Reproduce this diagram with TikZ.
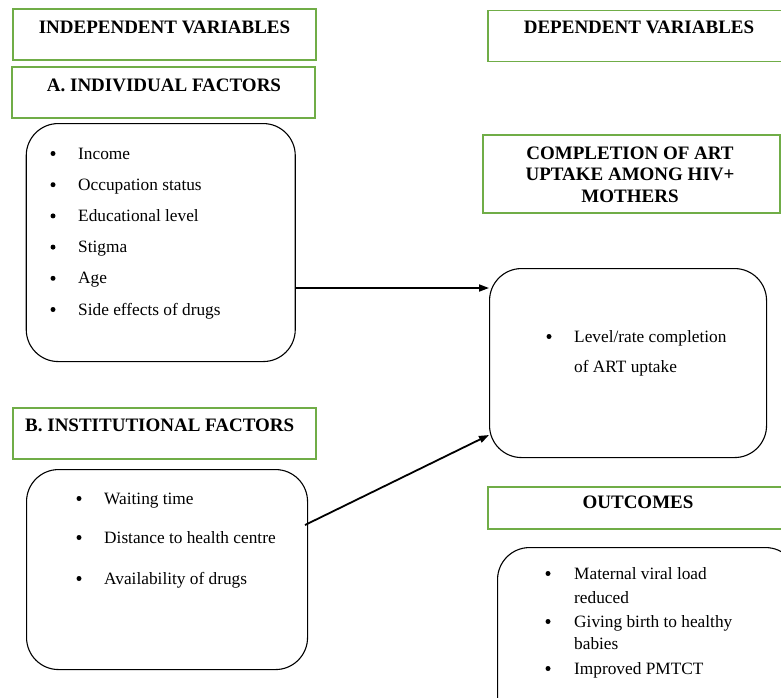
\documentclass[tikz,border=0pt]{standalone}
\usepackage{fontspec}
\setmainfont{Liberation Serif}
\usetikzlibrary{arrows.meta}
\definecolor{boxgreen}{RGB}{112,173,71}
\begin{document}
\begin{tikzpicture}[x=1pt,y=-1pt,
  greenbox/.style={draw=boxgreen,line width=1.6pt,rectangle,inner sep=0pt},
  roundbox/.style={draw=black,line width=1.1pt,rectangle,rounded corners=32pt,inner sep=0pt},
  head/.style={font=\fontsize{19}{21.5}\selectfont\bfseries,inner sep=0pt},
  body/.style={font=\fontsize{17.3}{20}\selectfont,inner sep=0pt,anchor=base west},
  bul/.style={circle,fill=black,inner sep=0pt,minimum size=5pt},
  conn/.style={line width=1.8pt,-{Triangle[length=10pt,width=7pt]}}]
\useasboundingbox (0,0) rectangle (781,697);
\clip (0,0) rectangle (781,697);
% header boxes
\node[greenbox,minimum width=303pt,minimum height=51pt] (indep) at (164.5,34.5) {};
\node[head,anchor=base] (indeptext) at (164.5,33) {INDEPENDENT VARIABLES};
\node[greenbox,minimum width=303pt,minimum height=51pt] (indiv) at (163.5,92.5) {};
\node[head,anchor=base] (indivtext) at (164,91) {A. INDIVIDUAL FACTORS};
\node[greenbox,minimum width=310pt,minimum height=51pt,anchor=north west] (dep) at (487,9.5) {};
\node[head,anchor=base] (deptext) at (639,33) {DEPENDENT VARIABLES};
\node[greenbox,minimum width=297pt,minimum height=78pt,anchor=north west] (compl) at (482,134) {};
\node[head,align=center,anchor=base] (compltext) at (630,202) {COMPLETION OF ART\\UPTAKE AMONG HIV+\\MOTHERS};
\node[greenbox,minimum width=310pt,minimum height=42pt,anchor=north west] (outc) at (487,486) {};
\node[head,anchor=base] (outctext) at (638,508) {OUTCOMES};
\node[greenbox,minimum width=303pt,minimum height=51pt,anchor=north west] (inst) at (12,407) {};
\node[head,anchor=base west] (insttext) at (25,431) {B. INSTITUTIONAL FACTORS};
% rounded boxes
\node[roundbox,minimum width=269pt,minimum height=238pt,anchor=north west] (indivbox) at (25.7,123) {};
\node[roundbox,minimum width=277pt,minimum height=189pt,anchor=north west] (levelbox) at (489,268) {};
\node[roundbox,minimum width=281pt,minimum height=200pt,anchor=north west] (instbox) at (26,469) {};
\node[roundbox,minimum width=300pt,minimum height=200pt,anchor=north west] (outbox) at (497,547) {};
% individual factors list
\foreach \t [count=\i from 0] in {Income,Occupation status,Educational level,Stigma,Age,Side effects of drugs}{
  \node[bul] (ib\i) at (53,153.5+31.2*\i) {};
  \node[body] (it\i) at (78,159+31.2*\i) {\t};
}
% level box
\node[bul] (lb0) at (549,336.5) {};
\node[body] (lt0) at (574,342) {Level/rate completion};
\node[body] (lt1) at (574,372) {of ART uptake};
% institutional list
\node[bul] (sb0) at (79,498.5) {};
\node[body] (st0) at (104,504) {Waiting time};
\node[bul] (sb1) at (79,537.5) {};
\node[body] (st1) at (104,543) {Distance to health centre};
\node[bul] (sb2) at (79,578.5) {};
\node[body] (st2) at (104,584) {Availability of drugs};
% outcomes list
\node[bul] (ob0) at (548,573.5) {};
\node[body] (ot0) at (574,579) {Maternal viral load};
\node[body] (ot1) at (574,603) {reduced};
\node[bul] (ob1) at (548,621.5) {};
\node[body] (ot2) at (574,627) {Giving birth to healthy};
\node[body] (ot3) at (574,649) {babies};
\node[bul] (ob2) at (548,668.5) {};
\node[body] (ot4) at (574,674) {Improved PMTCT};
% connectors
\coordinate (a1s) at (indivbox.east |- 0,288);
\coordinate (a1e) at (levelbox.west |- 0,288);
\draw[conn] (a1s) -- (a1e);
\coordinate (a2s) at (305,525);
\coordinate (a2e) at (levelbox.west |- 0,435);
\draw[conn] (a2s) -- (a2e);
\end{tikzpicture}
\end{document}
